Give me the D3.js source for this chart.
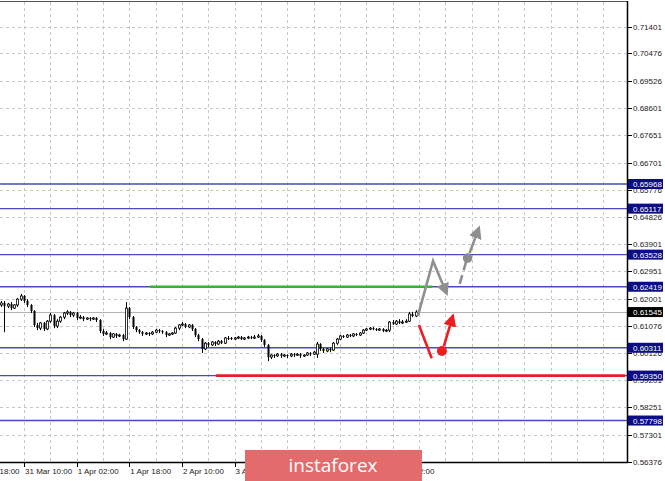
<!DOCTYPE html>
<html><head><meta charset="utf-8">
<script src="https://cdn.jsdelivr.net/npm/d3@7"></script>
<style>html,body{margin:0;padding:0;background:#fff;}svg{display:block;}</style>
</head><body>
<svg id="chart" width="665" height="481"></svg>
<script>
// ---- data ----
const opens = [.6179,.6186,.6175,.6182,.6168,.6179,.6199,.6210,.6193,.6179,.6158,.6110,.6099,.6117,.6096,.6123,.6144,.6106,.6123,.6137,
.6151,.6155,.6144,.6151,.6134,.6137,.6130,.6134,.6130,.6134,.6127,.6089,.6079,.6082,.6068,.6079,.6072,.6075,.6061,.6168,
.6137,.6103,.6092,.6085,.6079,.6082,.6079,.6085,.6092,.6089,.6085,.6075,.6079,.6082,.6099,.6110,.6113,.6103,.6110,.6096,
.6075,.6061,.6027,.6047,.6041,.6051,.6044,.6054,.6047,.6065,.6065,.6061,.6065,.6068,.6061,.6065,.6068,.6065,.6068,.6072,
.6058,.6041,.5999,.6006,.6003,.6009,.6003,.6006,.6003,.6009,.6006,.6009,.6003,.6006,.6013,.6009,.6009,.6044,.6027,.6020,
.6027,.6023,.6047,.6061,.6072,.6068,.6075,.6072,.6079,.6075,.6082,.6092,.6096,.6099,.6096,.6092,.6096,.6089,.6092,.6120,
.6113,.6123,.6117,.6120,.6123,.6148,.6141];
const closes = [.6186,.6175,.6182,.6168,.6179,.6199,.6210,.6193,.6179,.6158,.6110,.6099,.6117,.6096,.6123,.6144,.6106,.6123,.6137,.6151,
.6155,.6144,.6151,.6134,.6137,.6130,.6134,.6130,.6134,.6127,.6089,.6079,.6082,.6068,.6079,.6072,.6075,.6061,.6168,.6137,
.6103,.6092,.6085,.6079,.6082,.6079,.6085,.6092,.6089,.6085,.6075,.6079,.6082,.6099,.6110,.6113,.6103,.6110,.6096,.6075,
.6061,.6027,.6047,.6041,.6051,.6044,.6054,.6047,.6065,.6064,.6061,.6065,.6068,.6061,.6065,.6068,.6065,.6068,.6072,.6058,
.6041,.5999,.6006,.6003,.6009,.6003,.6006,.6003,.6009,.6006,.6009,.6003,.6006,.6013,.6009,.6016,.6044,.6027,.6020,.6027,
.6023,.6047,.6061,.6072,.6068,.6075,.6072,.6079,.6075,.6082,.6092,.6096,.6099,.6096,.6092,.6096,.6089,.6092,.6120,.6113,
.6123,.6117,.6120,.6123,.6148,.6141,.61545];
const highs = [.6193,.6193,.6186,.6189,.6182,.6203,.6217,.6213,.6199,.6182,.6161,.6117,.6120,.6120,.6127,.6151,.6148,.6130,.6141,.6155,
.6161,.6158,.6155,.6155,.6144,.6141,.6137,.6137,.6137,.6137,.6130,.6096,.6089,.6085,.6082,.6082,.6079,.6079,.6189,.6172,
.6141,.6106,.6096,.6089,.6085,.6085,.6089,.6096,.6096,.6092,.6089,.6082,.6085,.6103,.6113,.6120,.6117,.6113,.6113,.6099,
.6079,.6065,.6051,.6051,.6054,.6054,.6058,.6058,.6068,.6072,.6068,.6068,.6072,.6072,.6068,.6072,.6072,.6075,.6079,.6075,
.6061,.6044,.6009,.6009,.6013,.6013,.6009,.6009,.6013,.6013,.6013,.6013,.6009,.6016,.6016,.6020,.6051,.6047,.6030,.6030,
.6030,.6051,.6065,.6075,.6075,.6079,.6079,.6082,.6082,.6085,.6096,.6099,.6103,.6103,.6099,.6099,.6099,.6096,.6123,.6127,
.6127,.6130,.6127,.6130,.6155,.6155,.6161];
const lows = [.6172,.6085,.6168,.6161,.6165,.6172,.6193,.6186,.6172,.6151,.6103,.6092,.6092,.6089,.6092,.6117,.6099,.6099,.6117,.6130,
.6144,.6137,.6137,.6127,.6130,.6123,.6127,.6123,.6127,.6120,.6082,.6072,.6075,.6061,.6065,.6065,.6068,.6054,.6058,.6130,
.6096,.6085,.6079,.6072,.6075,.6072,.6075,.6082,.6082,.6079,.6068,.6072,.6075,.6079,.6092,.6106,.6099,.6099,.6089,.6068,
.6054,.6013,.6023,.6034,.6037,.6037,.6041,.6044,.6044,.6058,.6058,.6058,.6061,.6058,.6058,.6061,.6061,.6061,.6065,.6051,
.6034,.5985,.5992,.5996,.5999,.5996,.5999,.5996,.5999,.5999,.6003,.5996,.5999,.6003,.6003,.6006,.5996,.6020,.6013,.6016,
.6016,.6020,.6041,.6058,.6065,.6065,.6068,.6068,.6072,.6072,.6079,.6089,.6092,.6092,.6089,.6089,.6085,.6085,.6085,.6110,
.6110,.6113,.6113,.6117,.6120,.6137,.6137];

const yTicks = [0.71401,0.70476,0.69526,0.68601,0.67651,0.66701,0.65776,0.64826,0.63901,0.62951,0.62001,0.61076,0.60126,0.59201,0.58251,0.57301,0.56376];
const levels = [0.65968,0.65117,0.63528,0.62419,0.60311,0.59350,0.57798];
const currentPrice = 0.61545;
const xTickBars = [-9,7,23,39,55,71,87,103,119];
const xTickLabels = ["30 Mar 18:00","31 Mar 10:00","1 Apr 02:00","1 Apr 18:00","2 Apr 10:00","3 Apr 02:00","","","7 Apr 02:00"];
// support / resistance segments: [startBar, endBar, price]
const greenSeg = [45.3, 131, 0.62419];
const redSeg = [65.3, 189.7, 0.59350];
// forecast arrows (bar, price)
const grayPath = [[126.7,0.6141],[131.3,0.6331],[135.3,0.6222]];
const grayDash = [[139.4,0.6252],[141.4,0.6330]];
const grayDot = [141.8,0.6341];
const grayUp = [[142.4,0.6358],[145.1,0.6441]];
const redDown = [[127.0,0.6110],[130.9,0.5995]];
const redDot = [134.0,0.6020];
const redUp = [[134.6,0.6037],[137.2,0.6137]];

// ---- layout ----
const W = 665, H = 481;
const plotL = 0, plotR = 627, plotT = 2, plotB = 462;
const svg = d3.select("#chart");
svg.append("rect").attr("width",W).attr("height",H).attr("fill","#fff");

const x = d3.scaleLinear().domain([0,126]).range([1,415.6]);
const y = d3.scaleLinear().domain([0.56376,0.71401]).range([461.7,26.7]);

const defs = svg.append("defs");
defs.append("clipPath").attr("id","plotclip").append("rect")
  .attr("x",plotL).attr("y",plotT).attr("width",plotR-plotL).attr("height",plotB-plotT);
function marker(id,color){
  defs.append("marker").attr("id",id).attr("viewBox","0 0 10 10").attr("refX",7).attr("refY",5)
    .attr("markerWidth",5).attr("markerHeight",5).attr("orient","auto").attr("markerUnits","strokeWidth")
    .append("path").attr("d","M0,0 L10,5 L0,10 Z").attr("fill",color);
}
marker("mgray","#8f8f8f");
marker("mred","#ee1d23");

const plot = svg.append("g").attr("clip-path","url(#plotclip)");

// grid
const gridBars = d3.range(-1, 200, 8);
plot.append("g").selectAll("line").data(gridBars).join("line")
  .attr("x1",d=>Math.round(x(d))+0.5).attr("x2",d=>Math.round(x(d))+0.5)
  .attr("y1",plotT).attr("y2",plotB)
  .attr("stroke","#c8c8c8").attr("stroke-dasharray","3,3").attr("stroke-width",1);
plot.append("g").selectAll("line").data(yTicks).join("line")
  .attr("x1",plotL).attr("x2",plotR)
  .attr("y1",d=>Math.round(y(d))+0.5).attr("y2",d=>Math.round(y(d))+0.5)
  .attr("stroke","#c8c8c8").attr("stroke-dasharray","3,3").attr("stroke-width",1);

// current price line
plot.append("line").attr("x1",plotL).attr("x2",plotR)
  .attr("y1",Math.round(y(currentPrice))+0.5).attr("y2",Math.round(y(currentPrice))+0.5)
  .attr("stroke","#b4b4b4").attr("stroke-width",1);

// level lines
plot.append("g").selectAll("line").data(levels).join("line")
  .attr("x1",plotL).attr("x2",plotR)
  .attr("y1",d=>y(d)).attr("y2",d=>y(d))
  .attr("stroke","#4a4ab8").attr("stroke-width",1.4);

// green & red segments
plot.append("line").attr("x1",x(greenSeg[0])).attr("x2",x(greenSeg[1]))
  .attr("y1",y(greenSeg[2])).attr("y2",y(greenSeg[2]))
  .attr("stroke","#2eb82e").attr("stroke-width",2.6);
plot.append("line").attr("x1",x(redSeg[0])).attr("x2",x(redSeg[1]))
  .attr("y1",y(redSeg[2])).attr("y2",y(redSeg[2]))
  .attr("stroke","#ee1d23").attr("stroke-width",2.6);

// candles
const idx = d3.range(closes.length);
const cg = plot.append("g");
cg.selectAll("line").data(idx).join("line")
  .attr("x1",i=>Math.round(x(i))+0.5).attr("x2",i=>Math.round(x(i))+0.5)
  .attr("y1",i=>y(highs[i])).attr("y2",i=>y(lows[i]))
  .attr("stroke","#000").attr("stroke-width",1);
cg.selectAll("rect").data(idx).join("rect")
  .attr("x",i=>Math.round(x(i))-0.5)
  .attr("width",2)
  .attr("y",i=>y(Math.max(opens[i],closes[i])))
  .attr("height",i=>Math.max(1,Math.abs(y(opens[i])-y(closes[i]))))
  .attr("fill",i=>closes[i]>opens[i]?"#fff":"#000")
  .attr("stroke","#000").attr("stroke-width",i=>closes[i]>opens[i]?0.8:0);

// forecast arrows
const line = d3.line().x(d=>x(d[0])).y(d=>y(d[1]));
plot.append("path").attr("d",line(grayPath)).attr("fill","none")
  .attr("stroke","#8f8f8f").attr("stroke-width",2.6).attr("stroke-linejoin","miter")
  .attr("marker-end","url(#mgray)");
plot.append("path").attr("d",line(grayDash)).attr("fill","none")
  .attr("stroke","#8f8f8f").attr("stroke-width",2.6).attr("stroke-dasharray","9,5");
plot.append("circle").attr("cx",x(grayDot[0])).attr("cy",y(grayDot[1])).attr("r",4.8).attr("fill","#8a8a8a");
plot.append("path").attr("d",line(grayUp)).attr("fill","none")
  .attr("stroke","#8f8f8f").attr("stroke-width",2.6).attr("marker-end","url(#mgray)");
plot.append("path").attr("d",line(redDown)).attr("fill","none")
  .attr("stroke","#ee1d23").attr("stroke-width",2.6);
plot.append("circle").attr("cx",x(redDot[0])).attr("cy",y(redDot[1])).attr("r",5).attr("fill","#ee1d23");
plot.append("path").attr("d",line(redUp)).attr("fill","none")
  .attr("stroke","#ee1d23").attr("stroke-width",2.6).attr("marker-end","url(#mred)");

// frame
svg.append("line").attr("x1",plotL).attr("x2",plotR+0.5).attr("y1",plotT-0.5).attr("y2",plotT-0.5).attr("stroke","#555").attr("stroke-width",1);
svg.append("line").attr("x1",plotR+0.5).attr("x2",plotR+0.5).attr("y1",plotT-1).attr("y2",plotB+1).attr("stroke","#000").attr("stroke-width",1.5);
svg.append("line").attr("x1",plotL).attr("x2",plotR+1).attr("y1",plotB+0.5).attr("y2",plotB+0.5).attr("stroke","#000").attr("stroke-width",1.5);

const font = "'Liberation Sans', Arial, sans-serif";
// y axis ticks + labels
const ya = svg.append("g");
ya.selectAll("line").data(yTicks).join("line")
  .attr("x1",plotR+1).attr("x2",plotR+5)
  .attr("y1",d=>Math.round(y(d))+0.5).attr("y2",d=>Math.round(y(d))+0.5)
  .attr("stroke","#000");
ya.selectAll("text").data(yTicks).join("text")
  .attr("x",633).attr("y",d=>y(d)+3)
  .attr("font-family",font).attr("font-size",8).attr("fill","#222")
  .text(d=>d.toFixed(5));

// level labels
const lb = svg.append("g");
const allLabels = levels.map(v=>({v,bg:"#0c0c84"})).concat([{v:currentPrice,bg:"#000"}]);
lb.selectAll("rect").data(allLabels).join("rect")
  .attr("x",628).attr("y",d=>y(d.v)-5).attr("width",35).attr("height",10).attr("fill",d=>d.bg);
lb.selectAll("text").data(allLabels).join("text")
  .attr("x",633).attr("y",d=>y(d.v)+3)
  .attr("font-family",font).attr("font-size",8).attr("fill","#fff")
  .text(d=>d.v.toFixed(5));

// x axis
const xa = svg.append("g");
xa.selectAll("line").data(xTickBars).join("line")
  .attr("x1",d=>Math.round(x(d))+0.5).attr("x2",d=>Math.round(x(d))+0.5)
  .attr("y1",plotB).attr("y2",plotB+5).attr("stroke","#000");
xa.selectAll("text").data(xTickBars.filter((d,i)=>xTickLabels[i])).join("text")
  .attr("x",d=>x(d)+1).attr("y",474)
  .attr("font-family",font).attr("font-size",8).attr("fill","#222")
  .text(d=>xTickLabels[xTickBars.indexOf(d)]);

// watermark
svg.append("rect").attr("x",245).attr("y",450).attr("width",177).attr("height",31).attr("fill","#e36b6b");
svg.append("text").attr("x",333).attr("y",472).attr("text-anchor","middle")
  .attr("font-family","'Open Sans', sans-serif").attr("font-size",19).attr("fill","#fff")
  .text("instaforex");
</script>
</body></html>
